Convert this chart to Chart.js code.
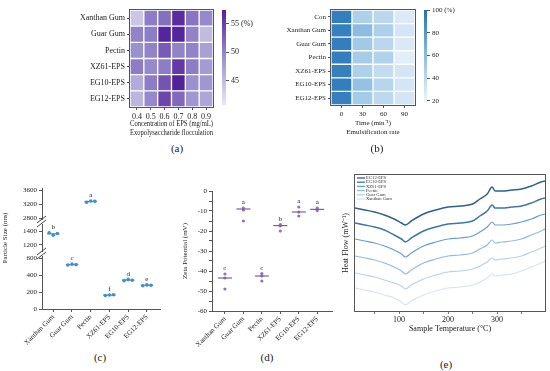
<!DOCTYPE html>
<html>
<head>
<meta charset="utf-8">
<script src="https://cdn.jsdelivr.net/npm/chart.js@4.4.0/dist/chart.umd.min.js"></script>
<style>
  body { margin: 0; background: #fff; }
  #fig { position: relative; width: 550px; height: 371px; overflow: hidden; font-family: "Liberation Serif", serif; color: #222; }
  #fig canvas { position: absolute; }
  .tag { position: absolute; font-size: 11px; color: #222; transform: translate(-50%, -50%); white-space: nowrap; }
</style>
</head>
<body>
<div id="fig">
  <canvas id="cA" width="216" height="138" style="left:0;top:0"></canvas>
  <canvas id="cAbar" width="60" height="112" style="left:218px;top:0"></canvas>
  <canvas id="cB" width="150" height="136" style="left:270px;top:0"></canvas>
  <canvas id="cBbar" width="60" height="109" style="left:420px;top:0"></canvas>
  <canvas id="cC" width="170" height="165" style="left:0;top:180px"></canvas>
  <canvas id="cD" width="160" height="167" style="left:180px;top:180px"></canvas>
  <canvas id="cE" width="210" height="164" style="left:340px;top:170px"></canvas>
  <div class="tag" style="left:177px;top:148px">(a)</div>
  <div class="tag" style="left:377px;top:148px">(b)</div>
  <div class="tag" style="left:100px;top:357px">(c)</div>
  <div class="tag" style="left:267px;top:357px">(d)</div>
  <div class="tag" style="left:446px;top:364px">(e)</div>
</div>
<script>
// ---- (a) flocculation heatmap
const FLOC_ROWS = ["Xanthan Gum", "Guar Gum", "Pectin", "XZ61-EPS", "EG10-EPS", "EG12-EPS"];
const FLOC_CONC = ["0.4", "0.5", "0.6", "0.7", "0.8", "0.9"];
const FLOC_VALUES = [
  [44.0, 50.5, 51.5, 56.5, 51.0, 49.5],
  [50.0, 50.5, 57.0, 57.0, 50.0, 45.0],
  [49.0, 50.0, 53.0, 50.0, 50.0, 47.5],
  [50.5, 49.5, 50.5, 55.5, 50.5, 48.0],
  [46.5, 50.5, 53.5, 57.5, 49.0, 48.5],
  [45.5, 49.5, 54.5, 52.0, 48.5, 47.0]
];
const FLOC_RANGE = [40.7, 57.4];
const FLOC_TICKS = [45, 50, 55];

// ---- (b) emulsification heatmap
const EMU_ROWS = ["Con", "Xanthan Gum", "Guar Gum", "Pectin", "XZ61-EPS", "EG10-EPS", "EG12-EPS"];
const EMU_TIME = ["0", "30", "60", "90"];
const EMU_VALUES = [
  [93, 46, 41, 27],
  [92, 60, 46, 30],
  [93, 51, 41, 28],
  [93, 49, 45, 24],
  [92, 46, 37, 30],
  [93, 57, 42, 30],
  [92, 50, 40, 30]
];
const EMU_RANGE = [18.3, 100];
const EMU_TICKS = [20, 40, 60, 80, 100];

// ---- (c) particle size, (d) zeta potential
const SAMPLES = ["Xanthan Gum", "Guar Gum", "Pectin", "XZ61-EPS", "EG10-EPS", "EG12-EPS"];
const SIZE_REPS = [[1375, 1340, 1365], [520, 530, 525], [3255, 3290, 3280], [160, 165, 168], [335, 350, 340], [275, 285, 280]];
const SIZE_MEAN = [1360, 525, 3275, 164, 342, 280];
const SIZE_LETTERS = ["b", "c", "a", "f", "d", "e"];
const SIZE_LO = [0, 650], SIZE_MID = [1070, 1530], SIZE_HI = [2690, 3660];
const SIZE_TICKS_LO = [0, 200, 400, 600];
const SIZE_TICKS_MID = [1200, 1400];
const SIZE_TICKS_HI = [2800, 3200, 3600];

const ZETA_REPS = [[-41.5, -43.5, -49], [-8.5, -9.5, -15], [-41.3, -42.5, -45], [-16.8, -17.5, -20], [-8, -10.5, -12.5], [-8.5, -9, -9.8]];
const ZETA_MEAN = [-43.5, -9, -42.5, -17.3, -10.5, -9.2];
const ZETA_LETTERS = ["c", "a", "c", "b", "a", "a"];

// ---- (e) DSC curves
const TEMP = [10, 30, 50, 70, 90, 105, 113, 125, 150, 175, 200, 225, 250, 265, 280, 290, 296, 310, 330, 350, 370, 390, 398];
const DSC_LABELS = ["EG12-EPS", "EG10-EPS", "XZ61-EPS", "Pectin", "Guar Gum", "Xanthan Gum"];
const DSC_EG12 = [103, 101, 99, 96, 92, 88, 86, 90, 97, 101, 104, 105, 107, 112, 117, 124, 120, 120, 121, 122, 125, 129, 130];
const DSC_EG10 = [88, 86, 84, 81, 76, 72, 69, 73, 80, 84, 87, 88, 90, 95, 100, 106, 103, 103, 104, 105, 108, 112, 113];
const DSC_XZ61 = [72, 70, 68, 65, 61, 57, 54, 58, 65, 69, 72, 73, 75, 79, 84, 89, 86, 86, 87, 89, 92, 96, 97];
const DSC_PECTIN = [55, 53, 51, 48, 44, 40, 37, 41, 48, 52, 55, 56, 58, 62, 66, 71, 68, 69, 70, 72, 76, 80, 82];
const DSC_GUAR = [38, 36, 34, 31, 28, 25, 22, 26, 32, 36, 39, 40, 42, 45, 49, 53, 51, 52, 53, 55, 59, 63, 65];
const DSC_XANTHAN = [23, 21, 19, 16, 13, 9, 6, 10, 16, 20, 23, 24, 26, 29, 33, 37, 35, 36, 37, 40, 44, 48, 50];
const DSC_SERIES = [DSC_EG12, DSC_EG10, DSC_XZ61, DSC_PECTIN, DSC_GUAR, DSC_XANTHAN];
const DSC_COLORS = ["#2f5f8e", "#3d77a8", "#6a9dc8", "#94bcdc", "#b8d2ea", "#d6e4f2"];

Chart.defaults.font.family = '"Liberation Serif", serif';
Chart.defaults.color = "#222";
const AXIS = "#555";

const PURPLES = ["#ebe8f5", "#9a90cf", "#52209a"];
const BLUES = ["#f0f6fc", "#8ebfe2", "#2171b5"];

function hexRgb(h) {
  return [1, 3, 5].map(i => parseInt(h.slice(i, i + 2), 16));
}
function lerpColor(stops, t) {
  t = Math.max(0, Math.min(1, t));
  const seg = (stops.length - 1) * t;
  const i = Math.min(Math.floor(seg), stops.length - 2);
  const f = seg - i;
  const a = hexRgb(stops[i]), b = hexRgb(stops[i + 1]);
  return "rgb(" + a.map((v, k) => Math.round(v + (b[k] - v) * f)).join(",") + ")";
}

// box around the plot area
const framePlugin = {
  id: "frame",
  afterDraw(chart) {
    const { ctx, chartArea: a } = chart;
    ctx.save();
    ctx.strokeStyle = AXIS;
    ctx.lineWidth = 1;
    ctx.strokeRect(Math.round(a.left) - 0.5, Math.round(a.top) - 0.5, Math.round(a.width) + 1, Math.round(a.height) + 1);
    ctx.restore();
  }
};

function heatmap(id, rows, cols, values, range, stops, o) {
  const n = rows.length;
  const datasets = [];
  for (let r = n - 1; r >= 0; r--) {
    datasets.push({
      label: rows[r],
      data: cols.map(() => 1),
      backgroundColor: values[r].map(v => lerpColor(stops, (v - range[0]) / (range[1] - range[0]))),
      borderColor: "#fff",
      borderWidth: 1,
      borderSkipped: false,
      barPercentage: 1,
      categoryPercentage: 1
    });
  }
  return new Chart(document.getElementById(id), {
    type: "bar",
    data: { labels: cols, datasets },
    options: {
      responsive: false,
      animation: false,
      layout: { padding: o.pad },
      plugins: { legend: { display: false }, tooltip: { enabled: false } },
      scales: {
        x: {
          stacked: true,
          grid: { offset: false, drawOnChartArea: false, tickLength: 3, color: AXIS },
          border: { display: false },
          ticks: { font: { size: o.fs }, padding: 2, maxRotation: 0 },
          title: { display: true, text: o.xTitle, font: { size: o.fs }, padding: { top: 0, bottom: 0 } },
          afterFit: s => { s.height = o.xh; }
        },
        y: {
          stacked: true,
          min: 0,
          max: n,
          afterBuildTicks: s => { s.ticks = rows.map((_, i) => ({ value: i + 0.5 })); },
          ticks: { callback: (v, i) => rows[n - 1 - i], font: { size: o.fs }, padding: 2, autoSkip: false },
          grid: { drawOnChartArea: false, tickLength: 3, color: AXIS },
          border: { display: false },
          afterFit: s => { s.width = o.yw; }
        }
      }
    },
    plugins: [framePlugin]
  });
}

function colorbar(id, range, ticks, stops, unitTick, fs, pad, yw) {
  return new Chart(document.getElementById(id), {
    type: "bar",
    data: {
      labels: [""],
      datasets: [{
        data: [range],
        barPercentage: 1,
        categoryPercentage: 1,
        borderWidth: 0,
        backgroundColor: c => {
          const a = c.chart.chartArea;
          if (!a) return stops[0];
          const g = c.chart.ctx.createLinearGradient(0, a.bottom, 0, a.top);
          stops.forEach((s, i) => g.addColorStop(i / (stops.length - 1), s));
          return g;
        }
      }]
    },
    options: {
      responsive: false,
      animation: false,
      layout: { padding: pad },
      plugins: { legend: { display: false }, tooltip: { enabled: false } },
      scales: {
        x: { display: false, offset: true },
        y: {
          position: "right",
          min: range[0],
          max: range[1],
          afterBuildTicks: s => { s.ticks = ticks.map(v => ({ value: v })); },
          ticks: { callback: v => (v === unitTick ? v + " (%)" : String(v)), font: { size: fs }, padding: 2, autoSkip: false },
          grid: { drawOnChartArea: false, tickLength: 3, color: AXIS },
          border: { display: false },
          afterFit: s => { s.width = yw; }
        }
      }
    }
  });
}

heatmap("cA", FLOC_ROWS, FLOC_CONC, FLOC_VALUES, FLOC_RANGE, PURPLES, {
  pad: { top: 10, right: 3, left: 0, bottom: 0 }, fs: 8, xh: 31, yw: 130,
  xTitle: ["Concentration of EPS (mg/mL)", "Exopolysaccharide flocculation"]
});
colorbar("cAbar", FLOC_RANGE, FLOC_TICKS, PURPLES, 55, 8, { left: 4, top: 10, bottom: 4, right: 0 }, 52);

heatmap("cB", EMU_ROWS, EMU_TIME, EMU_VALUES, EMU_RANGE, BLUES, {
  pad: { top: 10, right: 5, left: 0, bottom: 0 }, fs: 7, xh: 31, yw: 61,
  xTitle: ["Time (min\u207B\u00B9)", "Emulsification rate"]
});
colorbar("cBbar", EMU_RANGE, EMU_TICKS, BLUES, 100, 7, { left: 4, top: 10, bottom: 4, right: 0 }, 53);

// ---- shared helpers for the dot plots
const JIT = [-0.22, 0, 0.22];

function letterPlugin(letters, reps, axisOf) {
  return {
    id: "letters",
    afterDatasetsDraw(chart) {
      const { ctx } = chart;
      ctx.save();
      ctx.font = '7px "Liberation Serif"';
      ctx.fillStyle = "#222";
      ctx.textAlign = "center";
      ctx.textBaseline = "bottom";
      letters.forEach((l, i) => {
        const ys = chart.scales[axisOf(i)];
        const x = chart.scales.x.getPixelForValue(i);
        const y = ys.getPixelForValue(Math.max(...reps[i])) - 2;
        ctx.fillText(l, x, y);
      });
      ctx.restore();
    }
  };
}

function xCategoryAxis(min, max) {
  return {
    type: "linear",
    min, max,
    afterBuildTicks: s => { s.ticks = SAMPLES.map((_, i) => ({ value: i })); },
    ticks: { callback: v => SAMPLES[Math.round(v)], minRotation: 45, maxRotation: 45, autoSkip: false, font: { size: 7 }, padding: 1 },
    grid: { drawOnChartArea: false, tickLength: 3, color: AXIS },
    border: { color: AXIS },
    afterFit: s => { s.height = 36; }
  };
}

// ---- (c) particle size with broken axis
function sizeAxis(v) {
  return v < SIZE_LO[1] ? "yLo" : v < SIZE_MID[1] ? "yMid" : "yHi";
}
function segAxis(range, ticks, weight, title) {
  return {
    type: "linear",
    position: "left",
    stack: "ps",
    stackWeight: weight,
    min: range[0],
    max: range[1],
    afterBuildTicks: s => { s.ticks = ticks.map(v => ({ value: v })); },
    ticks: { callback: v => String(v), font: { size: 7 }, padding: 2, autoSkip: false },
    grid: { drawOnChartArea: false, tickLength: 3, color: AXIS },
    border: { color: AXIS },
    title: title ? { display: true, text: title, font: { size: 7 }, padding: { top: 1, bottom: 0 } } : { display: false },
    afterFit: s => { s.width = 42; }
  };
}

const SIZE_COLOR = "#3d8fd1";
const sizeSets = [];
SAMPLES.forEach((name, i) => {
  const ax = sizeAxis(SIZE_MEAN[i]);
  sizeSets.push({
    type: "line",
    label: name + " mean",
    yAxisID: ax,
    data: [{ x: i - 0.33, y: SIZE_MEAN[i] }, { x: i + 0.33, y: SIZE_MEAN[i] }],
    borderColor: SIZE_COLOR,
    borderWidth: 1.2,
    pointRadius: 0
  });
  sizeSets.push({
    type: "scatter",
    label: name,
    yAxisID: ax,
    data: SIZE_REPS[i].map((v, k) => ({ x: i + JIT[k], y: v })),
    backgroundColor: SIZE_COLOR,
    borderWidth: 0,
    pointRadius: 1.8
  });
});

const breakPlugin = {
  id: "breaks",
  afterDraw(chart) {
    const { ctx } = chart;
    const x = Math.round(chart.chartArea.left);
    [chart.scales.yLo.top, chart.scales.yMid.top].forEach(b => {
      ctx.save();
      ctx.fillStyle = "#fff";
      ctx.fillRect(x - 2, b - 2, 4, 4);
      ctx.strokeStyle = "#444";
      ctx.lineWidth = 1;
      ctx.beginPath();
      ctx.moveTo(x - 5, b + 1); ctx.lineTo(x + 4, b - 6);
      ctx.moveTo(x - 5, b + 5); ctx.lineTo(x + 4, b - 2);
      ctx.stroke();
      ctx.restore();
    });
  }
};

new Chart(document.getElementById("cC"), {
  type: "scatter",
  data: { datasets: sizeSets },
  options: {
    responsive: false,
    animation: false,
    layout: { padding: { top: 8, right: 10, left: 0, bottom: 0 } },
    plugins: { legend: { display: false }, tooltip: { enabled: false } },
    scales: {
      x: xCategoryAxis(-0.6, 5.7),
      // left-side stacked axes are laid out bottom-first
      yLo: segAxis(SIZE_LO, SIZE_TICKS_LO, 55),
      yMid: segAxis(SIZE_MID, SIZE_TICKS_MID, 32, "Particle Size (nm)"),
      yHi: segAxis(SIZE_HI, SIZE_TICKS_HI, 34)
    }
  },
  plugins: [breakPlugin, letterPlugin(SIZE_LETTERS, SIZE_REPS, i => sizeAxis(SIZE_MEAN[i]))]
});

// ---- (d) zeta potential
const ZETA_DOT = "#8e74b8";
const ZETA_LINE = "#7b5ea7";
const zetaSets = [];
SAMPLES.forEach((name, i) => {
  zetaSets.push({
    type: "line",
    label: name + " mean",
    data: [{ x: i - 0.38, y: ZETA_MEAN[i] }, { x: i + 0.38, y: ZETA_MEAN[i] }],
    borderColor: ZETA_LINE,
    borderWidth: 1.2,
    pointRadius: 0
  });
  zetaSets.push({
    type: "scatter",
    label: name,
    data: ZETA_REPS[i].map(v => ({ x: i, y: v })),
    backgroundColor: ZETA_DOT,
    borderWidth: 0,
    pointRadius: 1.6
  });
});

new Chart(document.getElementById("cD"), {
  type: "scatter",
  data: { datasets: zetaSets },
  options: {
    responsive: false,
    animation: false,
    layout: { padding: { top: 11, right: 8, left: 0, bottom: 0 } },
    plugins: { legend: { display: false }, tooltip: { enabled: false } },
    scales: {
      x: xCategoryAxis(-0.7, 5.8),
      y: {
        min: -60,
        max: 0,
        afterBuildTicks: s => {
          const t = [];
          for (let v = -60; v <= 0; v += 5) t.push({ value: v });
          s.ticks = t;
        },
        ticks: { callback: v => (v % 10 === 0 ? String(v) : ""), font: { size: 7 }, padding: 2, autoSkip: false },
        grid: { drawOnChartArea: false, tickLength: 3, color: AXIS },
        border: { color: AXIS },
        title: { display: true, text: "Zeta Potential (mV)", font: { size: 7 }, padding: { top: 1, bottom: 0 } },
        afterFit: s => { s.width = 32; }
      }
    }
  },
  plugins: [letterPlugin(ZETA_LETTERS, ZETA_REPS, () => "y")]
});

// ---- (e) DSC
const legendInside = {
  id: "legendInside",
  afterDraw(chart) {
    const { ctx, chartArea: a } = chart;
    ctx.save();
    ctx.font = '4.6px "Liberation Serif"';
    ctx.textBaseline = "middle";
    chart.data.datasets.forEach((d, i) => {
      const y = a.top + 3 + i * 4.2;
      ctx.strokeStyle = d.borderColor;
      ctx.lineWidth = 1.3;
      ctx.beginPath();
      ctx.moveTo(a.left + 2, y);
      ctx.lineTo(a.left + 10, y);
      ctx.stroke();
      ctx.fillStyle = "#333";
      ctx.fillText(d.label, a.left + 11, y);
    });
    ctx.restore();
  }
};

new Chart(document.getElementById("cE"), {
  type: "line",
  data: {
    datasets: DSC_LABELS.map((label, k) => ({
      label,
      data: TEMP.map((t, i) => ({ x: t, y: DSC_SERIES[k][i] })),
      borderColor: DSC_COLORS[k],
      borderWidth: k < 2 ? 1.5 : 1.2,
      pointRadius: 0,
      cubicInterpolationMode: "monotone"
    }))
  },
  options: {
    responsive: false,
    animation: false,
    layout: { padding: { top: 5, right: 5, left: 0, bottom: 0 } },
    plugins: { legend: { display: false }, tooltip: { enabled: false } },
    scales: {
      x: {
        type: "linear",
        min: 10,
        max: 398,
        afterBuildTicks: s => {
          const t = [];
          for (let v = 50; v <= 350; v += 50) t.push({ value: v });
          s.ticks = t;
        },
        ticks: { callback: v => (v % 100 === 0 ? String(v) : ""), font: { size: 8 }, padding: 1, maxRotation: 0, autoSkip: false },
        grid: { drawOnChartArea: false, tickLength: 3, color: "#777" },
        border: { display: false },
        title: { display: true, text: "Sample Temperature (\u00B0C)", font: { size: 8 }, padding: { top: 0, bottom: 0 } },
        afterFit: s => { s.height = 23; }
      },
      y: {
        min: 0,
        max: 136,
        ticks: { display: false },
        grid: { display: false },
        border: { display: false },
        title: { display: true, text: "Heat Flow (mW\u207B\u00B9)", font: { size: 8 }, padding: { top: 1, bottom: 0 } },
        afterFit: s => { s.width = 15; }
      }
    }
  },
  plugins: [framePlugin, legendInside]
});
</script>
</body>
</html>
